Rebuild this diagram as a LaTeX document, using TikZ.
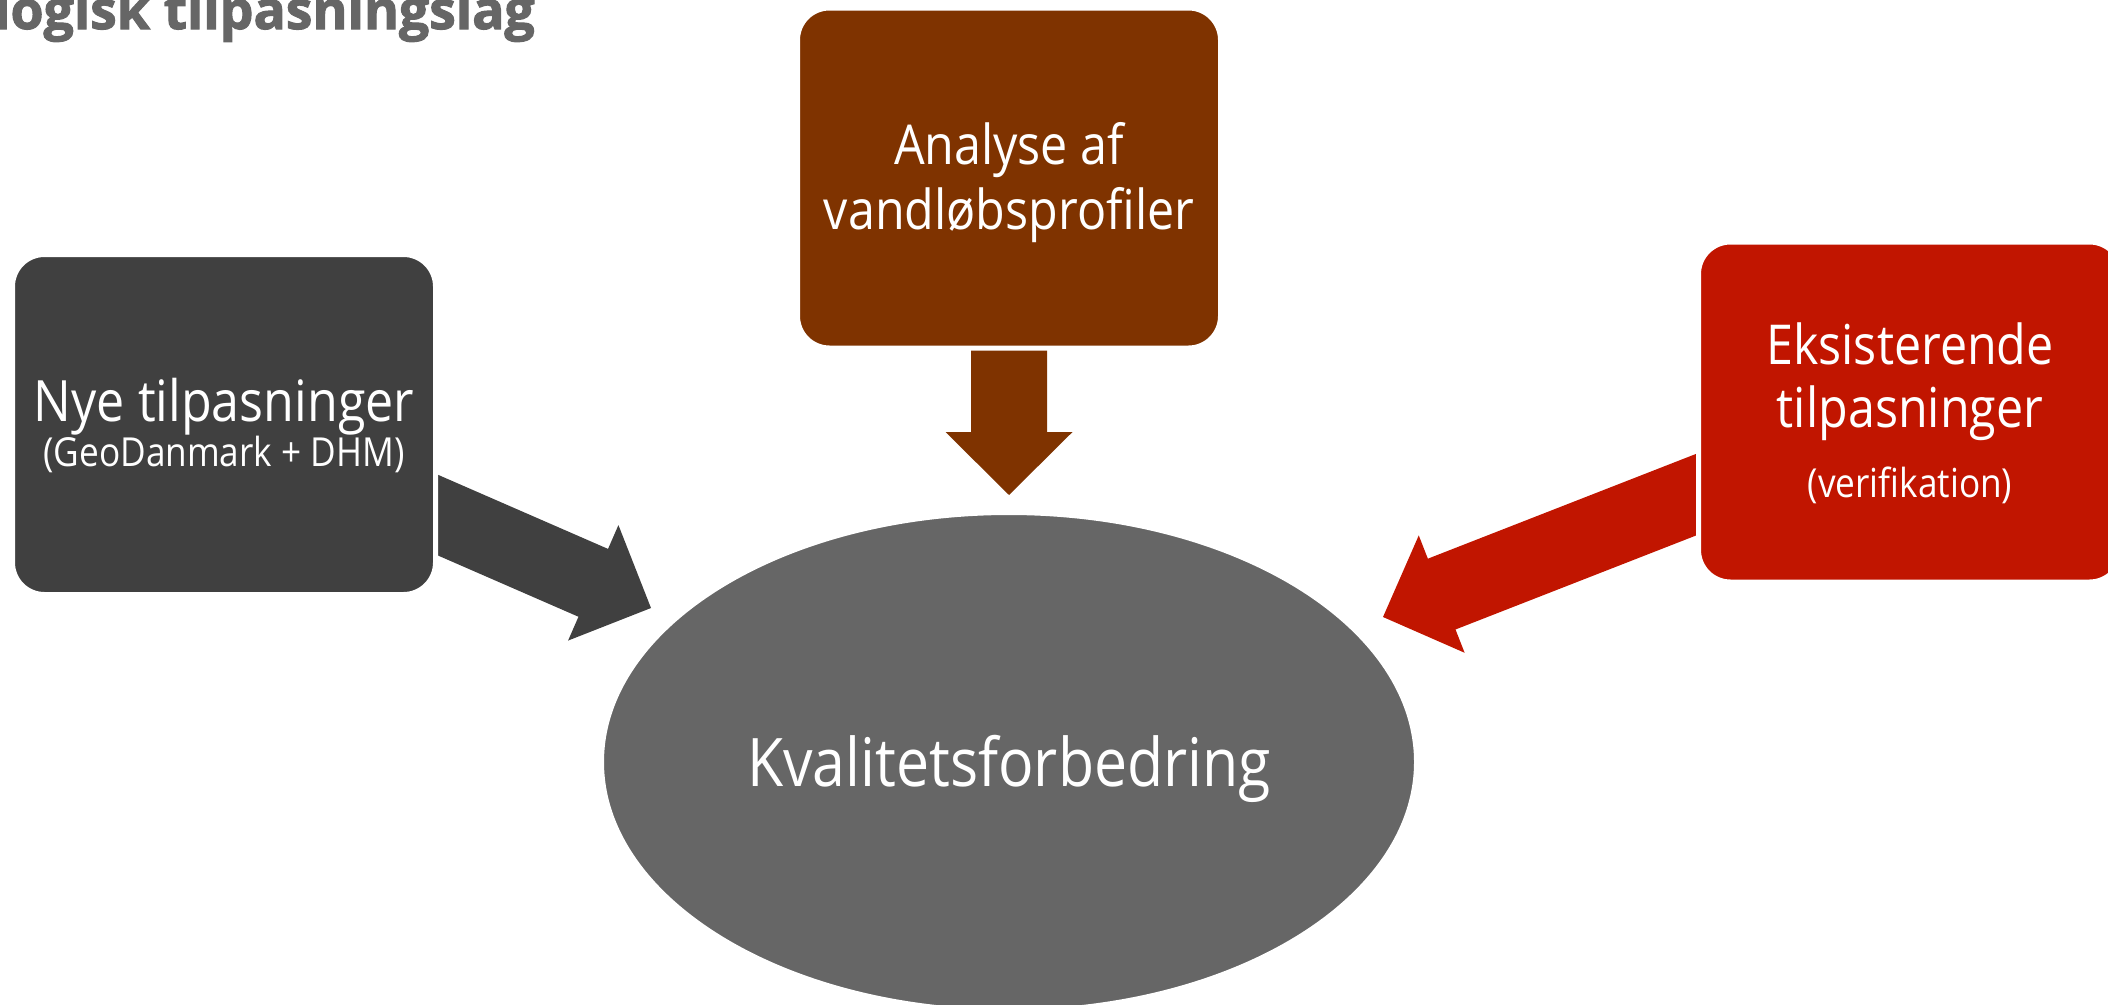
\documentclass[tikz,border=0pt]{standalone}
\usepackage{fontspec}
\newfontfamily\segoe[FakeStretch=0.88]{Open Sans}
\newfontfamily\titlefont[BoldFeatures={FakeBold=2}]{Open Sans}
\usetikzlibrary{calc,shapes.geometric}
\definecolor{boxgray}{HTML}{404040}
\definecolor{boxbrown}{HTML}{7F3300}
\definecolor{boxred}{HTML}{C11500}
\definecolor{ellgray}{HTML}{666666}
\definecolor{titlegray}{HTML}{666666}
% #1 start, #2 tip, #3 shaft half width, #4 head half width, #5 head length, #6 colour, #7 name
\newcommand{\blockarrow}[7]{%
  \coordinate (#7n) at ($(#2)!#5!(#1)$);
  \fill[#6] ($(#1)!#3!90:(#2)$) -- ($(#7n)!#3!90:(#2)$) -- ($(#7n)!#4!90:(#2)$) -- (#2)
    -- ($(#7n)!#4!-90:(#2)$) -- ($(#7n)!#3!-90:(#2)$) -- ($(#1)!#3!-90:(#2)$) -- cycle;
}
\begin{document}
\begin{tikzpicture}[x=1pt,y=1pt,
  box/.style={draw=white, line width=5pt, rounded corners=32pt, minimum width=423pt, minimum height=340pt, inner sep=0pt},
  lbl/.style={text=white, inner sep=0pt, anchor=base, font=\segoe\fontsize{55}{66}\selectfont},
  sublbl/.style={text=white, inner sep=0pt, anchor=base, font=\segoe\fontsize{40}{48}\selectfont}]
\useasboundingbox (0,0) rectangle (2108,-1004);
\clip (0,0) rectangle (2108,-1004);
% central ellipse
\node[ellipse, fill=ellgray, draw=white, line width=5pt, minimum width=815pt, minimum height=499pt, inner sep=0pt] (kval) at (1009,-762) {};
% arrows
\coordinate (ls) at (300,-455);
\coordinate (lt) at (651,-608);
\coordinate (ts) at (1009,-250);
\coordinate (tt) at (1009,-495);
\coordinate (rs) at (1900,-415);
\coordinate (rt) at (1383,-617);
\blockarrow{ls}{lt}{37pt}{63pt}{63pt}{boxgray}{la}
\blockarrow{ts}{tt}{38pt}{63.5pt}{63pt}{boxbrown}{ta}
\blockarrow{rs}{rt}{38pt}{63pt}{63pt}{boxred}{ra}
% boxes
\node[box, fill=boxgray] (nye) at (224,-424.5) {};
\node[box, fill=boxbrown] (ana) at (1009,-178) {};
\node[box, fill=boxred] (eks) at (1910,-412) {};
% texts
\node[lbl, font=\segoe\fontsize{57}{66}\selectfont] (nye1) at (224,-421) {Nye tilpasninger};
\node[sublbl] (nye2) at (224,-466) {(GeoDanmark + DHM)};
\node[lbl] (ana1) at (1009,-164) {Analyse af};
\node[lbl] (ana2) at (1009,-229) {vandløbsprofiler};
\node[lbl] (eks1) at (1910,-364) {Eksisterende};
\node[lbl] (eks2) at (1910,-427) {tilpasninger};
\node[sublbl] (eks3) at (1910,-497) {(verifikation)};
\node[text=white, inner sep=0pt, anchor=base, font=\segoe\fontsize{67}{80}\selectfont] (kvalT) at (1009,-786) {Kvalitetsforbedring};
% title
\node[anchor=base west, inner sep=0pt, text=titlegray, font=\titlefont\bfseries\fontsize{53.5}{60}\selectfont] (title) at (-6,-29) {logisk tilpasningslag};
\end{tikzpicture}
\end{document}
